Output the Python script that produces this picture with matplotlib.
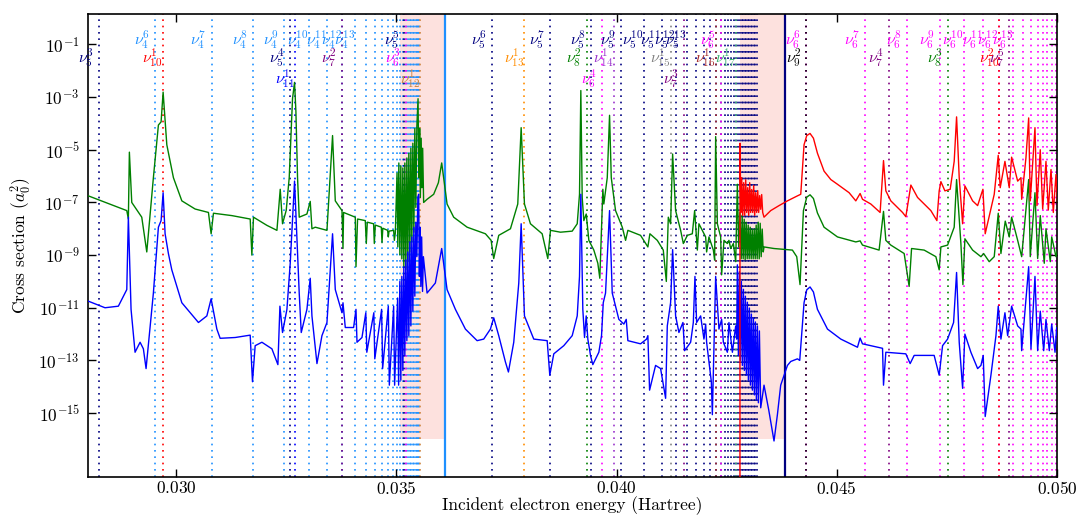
import numpy as np
import matplotlib
matplotlib.use('Agg')
from matplotlib import pyplot as plt
from matplotlib import transforms

plt.rcParams['font.family'] = 'serif'
plt.rcParams['font.serif'] = ['cmr10']
plt.rcParams['mathtext.fontset'] = 'cm'
plt.rcParams['axes.formatter.use_mathtext'] = True

# resonance positions (Hartree): series -> (first n, energies)
resonances = {
    4: (6, [0.029523, 0.030807, 0.031739, 0.032455, 0.033011, 0.033432, 0.033773, 0.034068,
            0.034318, 0.034511, 0.034670, 0.034807, 0.034920, 0.035011, 0.035091, 0.035159,
            0.035216, 0.035261, 0.035307, 0.035341, 0.035375, 0.035409, 0.035443, 0.035466,
            0.035489, 0.035511]),
    5: (3, [0.028257, 0.032575, 0.035182, 0.037175, 0.038484, 0.039409, 0.040091, 0.040614,
            0.041023, 0.041341, 0.041591, 0.041795, 0.041977, 0.042125, 0.042250, 0.042364,
            0.042455, 0.042534, 0.042602, 0.042659, 0.042716, 0.042761, 0.042807, 0.042841,
            0.042875, 0.042909, 0.042943, 0.042977, 0.043011, 0.043045, 0.043080, 0.043114,
            0.043148, 0.043182]),
    6: (3, [0.035227, 0.039659, 0.042364, 0.044307, 0.045648, 0.046602, 0.047341, 0.047886,
            0.048330, 0.048682, 0.049011, 0.049220, 0.049409, 0.049561, 0.049675, 0.049784,
            0.049886, 0.049977]),
    7: (2, [0.033766, 0.041530, 0.046189, 0.048920]),
    8: (2, [0.039334, 0.047516]),
    9: (2, [0.044310]),
    10: (1, [0.029698, 0.048689]),
    11: (1, [0.032705]),
    12: (1, [0.035545]),
    13: (1, [0.037909]),
    14: (1, [0.039932]),
    15: (1, [0.041227]),
    16: (1, [0.042250]),
    17: (1, [0.042705]),
}
series_colors = {4: 'dodgerblue', 5: 'navy', 6: 'magenta', 7: 'purple', 8: 'green', 9: 'black',
                 10: 'red', 11: 'blue', 12: 'peru', 13: 'darkorange', 14: 'darkorchid',
                 15: 'gray', 16: 'brown', 17: 'mediumseagreen'}
row_b = [(5, 3), (10, 1), (5, 4), (7, 2), (6, 3), (13, 1), (8, 2), (14, 1), (15, 1), (16, 1),
         (17, 1), (9, 2), (7, 4), (8, 3), (10, 2), (7, 5)]
row_c = [(11, 1), (12, 1), (6, 4), (7, 3)]

thresholds = [(0.036098, 'dodgerblue'), (0.043825, 'navy')]
windows = [(0.035091, 0.036098), (0.042795, 0.043825)]

# cross sections: (energy in Hartree, log10 sigma in a0^2)
green_pts = [
    (0.028007, -6.75), (0.028880, -7.31), (0.028916, -7.63), (0.028939, -5.09), (0.028993, -7.00),
    (0.029220, -7.56), (0.029334, -8.88), (0.029484, -6.06), (0.029598, -4.06), (0.029659, -3.94),
    (0.029705, -2.81), (0.029739, -3.63), (0.029789, -4.81), (0.029864, -5.43), (0.029939, -6.06),
    (0.030130, -6.94), (0.030432, -7.25),
    (0.030734, -7.38), (0.030795, -8.19), (0.030848, -7.41), (0.031266, -7.50), (0.031682, -7.63),
    (0.031720, -9.00), (0.031757, -7.56), (0.032061, -7.87), (0.032289, -8.06), (0.032364, -6.50),
    (0.032416, -7.81), (0.032500, -7.30), (0.032568, -6.06), (0.032643, -3.06), (0.032689, -2.44),
    (0.032720, -3.55), (0.032757, -6.06), (0.032795, -7.56), (0.032970, -7.44), (0.033045, -6.96),
    (0.033084, -8.00), (0.033159, -7.94), (0.033425, -8.06), (0.033552, -4.46), (0.033614, -6.94),
    (0.033766, -7.31), (0.033789, -8.75), (0.033802, -7.38), (0.034068, -7.56), (0.034084, -9.44),
    (0.034120, -7.63), (0.034295, -7.69), (0.034318, -8.56), (0.034341, -7.75), (0.034484, -7.81),
    (0.034500, -8.56), (0.034523, -7.86), (0.034659, -7.94), (0.034675, -8.53), (0.034693, -7.98),
    (0.034802, -8.06), (0.034818, -8.31), (0.034834, -8.09), (0.034939, -8.06), (0.034955, -8.44),
    (0.034977, -8.16),
    (0.035016, -5.88), (0.035034, -8.69), (0.035057, -5.50), (0.035080, -8.99), (0.035102, -5.61),
    (0.035125, -9.14), (0.035148, -5.69), (0.035170, -9.44), (0.035193, -5.50), (0.035216, -9.55),
    (0.035239, -5.31), (0.035261, -9.25), (0.035284, -5.13), (0.035307, -8.88), (0.035330, -4.94),
    (0.035352, -8.50), (0.035375, -4.75), (0.035398, -8.13), (0.035420, -4.19), (0.035443, -7.19),
    (0.035466, -4.11), (0.035493, -3.06), (0.035511, -6.06), (0.035530, -4.19), (0.035545, -6.81),
    (0.035564, -4.56), (0.035580, -6.44), (0.035598, -4.94), (0.035620, -7.00),
    (0.035698, -6.88), (0.035848, -6.69), (0.035955, -6.25), (0.036030, -5.50), (0.036152, -7.06),
    (0.036302, -7.56), (0.036607, -7.94), (0.037023, -8.19), (0.037152, -8.44), (0.037211, -9.13),
    (0.037325, -8.25), (0.037591, -8.00), (0.037757, -7.06), (0.037834, -4.16), (0.037909, -7.06),
    (0.038045, -7.81), (0.038311, -8.19), (0.038439, -9.13), (0.038500, -8.06), (0.038727, -8.13),
    (0.038993, -8.09), (0.039107, -7.81), (0.039159, -6.69), (0.039189, -2.75), (0.039220, -6.81),
    (0.039257, -7.69), (0.039311, -7.44), (0.039371, -8.44), (0.039484, -8.81), (0.039575, -9.31),
    (0.039620, -9.88), (0.039689, -6.50), (0.039711, -7.06), (0.039789, -6.06), (0.039841, -3.69),
    (0.039880, -6.06), (0.039977, -7.31), (0.040130, -7.94), (0.040205, -8.44), (0.040257, -8.06),
    (0.040545, -8.25), (0.040711, -8.69), (0.040757, -8.19), (0.040925, -8.44), (0.041061, -8.81),
    (0.041130, -10.00), (0.041175, -7.56), (0.041227, -7.81), (0.041273, -5.16), (0.041341, -7.31),
    (0.041455, -8.06), (0.041516, -8.56), (0.041607, -8.25), (0.041720, -8.19), (0.041773, -7.31),
    (0.041834, -8.81), (0.041870, -7.81), (0.042023, -8.31), (0.042045, -8.88), (0.042098, -8.31),
    (0.042198, -8.81), (0.042227, -9.19), (0.042250, -4.50), (0.042289, -7.81), (0.042364, -8.31),
    (0.042386, -9.75), (0.042439, -8.44), (0.042516, -8.56), (0.042552, -8.44), (0.042591, -8.75),
    (0.042652, -8.56), (0.042705, -9.25), (0.042743, -6.31),
    (0.042773, -8.69), (0.042802, -7.38), (0.042830, -9.14), (0.042852, -7.49), (0.042875, -9.14),
    (0.042898, -7.64), (0.042920, -9.18), (0.042943, -7.75), (0.042966, -9.14), (0.042989, -7.86),
    (0.043011, -9.14), (0.043034, -7.94), (0.043057, -9.14), (0.043080, -8.01), (0.043102, -9.14),
    (0.043125, -8.01), (0.043148, -9.14), (0.043170, -7.86), (0.043193, -9.14), (0.043216, -7.75),
    (0.043239, -9.14), (0.043261, -7.79), (0.043284, -9.06), (0.043307, -8.01), (0.043330, -8.88),
    (0.043348, -8.69), (0.043575, -8.75), (0.043993, -8.81), (0.044091, -9.06), (0.044166, -10.12),
    (0.044243, -7.31), (0.044318, -6.80), (0.044393, -6.71), (0.044470, -6.85), (0.044561, -7.40),
    (0.044711, -7.94), (0.045016, -8.31),
    (0.045432, -8.50), (0.045530, -8.46), (0.045584, -8.62), (0.045961, -8.81), (0.046061, -7.34),
    (0.046114, -8.44), (0.046227, -8.62), (0.046530, -8.94), (0.046643, -10.19), (0.046698, -8.75),
    (0.046984, -8.81), (0.047250, -9.06), (0.047325, -9.56), (0.047364, -8.69), (0.047516, -8.62),
    (0.047666, -7.94), (0.047720, -6.13), (0.047818, -8.56), (0.047864, -10.12), (0.047909, -8.38),
    (0.048084, -8.81), (0.048273, -9.06), (0.048334, -8.94), (0.048461, -9.25), (0.048575, -9.06),
    (0.048666, -7.41), (0.048727, -8.94), (0.048825, -7.71), (0.048916, -8.31), (0.048970, -7.56),
    (0.049107, -8.44), (0.049198, -9.06), (0.049357, -6.13), (0.049393, -9.06), (0.049500, -6.63),
    (0.049561, -9.13), (0.049620, -7.50), (0.049711, -9.31), (0.049750, -8.00), (0.049848, -9.25),
    (0.049880, -8.31), (0.049977, -9.06), (0.050023, -8.69),
]

blue_pts = [
    (0.028007, -10.75), (0.028386, -11.00), (0.028689, -10.94), (0.028880, -10.31), (0.028916, -7.56),
    (0.028977, -11.06), (0.029068, -12.69), (0.029182, -12.31), (0.029257, -12.56), (0.029318, -13.31),
    (0.029484, -10.44), (0.029598, -7.94), (0.029659, -7.69), (0.029705, -6.63), (0.029750, -8.19),
    (0.029825, -8.94), (0.029902, -9.56), (0.030130, -10.81), (0.030507, -11.56), (0.030698, -11.31),
    (0.030795, -10.66),
    (0.030925, -11.81), (0.031000, -12.16), (0.031341, -12.13), (0.031682, -12.04), (0.031734, -13.81),
    (0.031795, -12.44), (0.031948, -12.31), (0.032175, -12.56), (0.032311, -13.16), (0.032357, -10.94),
    (0.032416, -11.94), (0.032516, -11.06), (0.032591, -9.31), (0.032666, -6.94), (0.032689, -6.19),
    (0.032743, -8.31), (0.032795, -10.44), (0.032841, -11.94), (0.032970, -11.06), (0.033045, -9.88),
    (0.033084, -11.31), (0.033198, -13.12), (0.033311, -12.06), (0.033425, -11.56), (0.033552, -8.19),
    (0.033614, -10.31), (0.033766, -11.19), (0.033789, -10.81), (0.033841, -11.75), (0.034030, -11.75),
    (0.034084, -11.06), (0.034107, -12.31), (0.034220, -12.13), (0.034307, -11.19), (0.034330, -12.69),
    (0.034489, -11.19), (0.034511, -12.94), (0.034666, -11.06), (0.034689, -13.31), (0.034818, -10.94),
    (0.034841, -13.94), (0.034939, -10.94), (0.034961, -13.94), (0.035030, -10.63), (0.035052, -13.94),
    (0.035080, -10.00), (0.035102, -13.75), (0.035125, -9.81), (0.035148, -13.38), (0.035170, -9.44),
    (0.035193, -12.81), (0.035216, -9.18), (0.035239, -12.25), (0.035261, -8.88), (0.035284, -12.06),
    (0.035307, -8.50), (0.035330, -11.69), (0.035352, -8.31), (0.035375, -11.13), (0.035398, -7.94),
    (0.035420, -10.56), (0.035443, -7.75), (0.035466, -9.06), (0.035489, -6.81), (0.035507, -6.69),
    (0.035523, -9.81), (0.035539, -7.94), (0.035557, -10.19), (0.035575, -8.31), (0.035595, -10.38),
    (0.035614, -9.06),
    (0.035698, -10.44), (0.035886, -10.06), (0.036030, -8.75), (0.036152, -10.31), (0.036341, -11.06),
    (0.036568, -11.81), (0.036834, -12.25), (0.036984, -12.19), (0.037136, -11.81), (0.037211, -11.38),
    (0.037325, -12.06), (0.037477, -13.06), (0.037545, -13.44), (0.037666, -12.31), (0.037780, -10.06),
    (0.037834, -7.81), (0.037909, -11.31), (0.038120, -12.19), (0.038425, -12.25), (0.038484, -13.56),
    (0.038575, -12.75), (0.038802, -12.44), (0.038993, -12.06), (0.039107, -11.31), (0.039159, -9.81),
    (0.039189, -6.69), (0.039234, -11.06), (0.039273, -12.13), (0.039311, -11.31), (0.039348, -12.19),
    (0.039409, -12.81), (0.039461, -13.16), (0.039598, -12.69), (0.039659, -12.06), (0.039698, -10.81),
    (0.039750, -10.44), (0.039841, -7.31), (0.039902, -10.44), (0.040052, -11.44), (0.040166, -11.62),
    (0.040220, -11.44), (0.040257, -12.25), (0.040545, -12.37), (0.040682, -12.19), (0.040711, -12.06),
    (0.040750, -14.13), (0.040886, -13.19), (0.041000, -13.31), (0.041114, -14.44), (0.041152, -11.69),
    (0.041227, -10.81), (0.041273, -8.79), (0.041341, -11.31), (0.041416, -11.94), (0.041507, -11.56),
    (0.041545, -12.63), (0.041682, -12.31), (0.041743, -11.56), (0.041780, -9.81), (0.041818, -11.56),
    (0.041909, -11.31), (0.041984, -12.19), (0.042023, -11.62), (0.042045, -12.31), (0.042098, -13.06),
    (0.042152, -13.81), (0.042175, -15.06), (0.042250, -9.81), (0.042325, -11.81), (0.042386, -11.44),
    (0.042425, -12.31), (0.042516, -12.69), (0.042552, -11.56), (0.042630, -12.69), (0.042705, -11.69),
    (0.042727, -12.19), (0.042743, -9.37),
    (0.042766, -12.81), (0.042789, -9.63), (0.042811, -13.00), (0.042834, -10.00), (0.042857, -13.19),
    (0.042880, -10.30), (0.042902, -13.38), (0.042925, -10.56), (0.042948, -13.56), (0.042970, -10.79),
    (0.042993, -13.75), (0.043016, -11.01), (0.043039, -13.94), (0.043061, -11.24), (0.043084, -14.13),
    (0.043107, -11.39), (0.043130, -14.31), (0.043152, -11.54), (0.043175, -14.50), (0.043198, -11.69),
    (0.043220, -14.61), (0.043243, -11.88), (0.043273, -14.80),
    (0.043348, -13.94), (0.043455, -14.88), (0.043575, -16.06), (0.043652, -15.06), (0.043727, -13.94),
    (0.043880, -13.19), (0.043955, -13.04), (0.044107, -12.94), (0.044159, -13.00), (0.044257, -10.81),
    (0.044318, -10.32), (0.044393, -10.21), (0.044470, -10.40), (0.044561, -11.06), (0.044789, -11.81),
    (0.045091, -12.19), (0.045470, -12.50),
    (0.045530, -12.15), (0.045584, -12.37), (0.046039, -12.54), (0.046061, -13.94), (0.046114, -12.69),
    (0.046568, -12.75), (0.046666, -13.12), (0.046757, -12.81), (0.047211, -12.81), (0.047325, -13.56),
    (0.047402, -12.44), (0.047516, -12.19), (0.047652, -11.56), (0.047720, -9.66), (0.047780, -12.31),
    (0.047857, -14.06), (0.047909, -12.00), (0.048045, -12.69), (0.048198, -13.31), (0.048273, -13.19),
    (0.048325, -12.81), (0.048370, -15.13), (0.048500, -13.56), (0.048614, -12.06), (0.048666, -10.94),
    (0.048727, -12.19), (0.048818, -11.19), (0.048880, -12.06), (0.048970, -10.94), (0.049107, -11.69),
    (0.049182, -11.81), (0.049198, -12.63), (0.049357, -9.44), (0.049409, -12.56), (0.049500, -9.81),
    (0.049561, -12.63), (0.049620, -11.13), (0.049698, -12.63), (0.049750, -11.44), (0.049825, -12.63),
    (0.049880, -11.62), (0.049955, -12.69), (0.049993, -11.75), (0.050023, -12.25),
]

red_pts = [
    (0.042802, -20.0), (0.042802, -4.75), (0.042823, -7.38),
    (0.042841, -6.06), (0.042864, -7.49), (0.042886, -6.25), (0.042909, -7.49), (0.042932, -6.14),
    (0.042955, -7.38), (0.042977, -6.44), (0.043000, -7.49), (0.043023, -6.25), (0.043045, -7.38),
    (0.043068, -6.51), (0.043091, -7.38), (0.043114, -6.36), (0.043136, -7.49), (0.043159, -6.63),
    (0.043182, -7.38), (0.043205, -6.55), (0.043227, -7.38), (0.043250, -6.74), (0.043273, -7.26),
    (0.043295, -6.70), (0.043318, -7.38),
    (0.043348, -7.56), (0.043500, -7.31), (0.043689, -7.12), (0.043880, -6.94), (0.044107, -6.75),
    (0.044182, -6.69), (0.044257, -4.81), (0.044318, -4.46), (0.044393, -4.38), (0.044470, -4.56),
    (0.044561, -5.13), (0.044711, -5.81), (0.044864, -6.13),
    (0.045016, -6.31), (0.045280, -6.63), (0.045432, -6.94), (0.045530, -6.66), (0.045584, -6.88),
    (0.045773, -7.06), (0.045984, -7.38), (0.046061, -5.41), (0.046114, -6.56), (0.046227, -6.94),
    (0.046493, -7.38), (0.046568, -7.54), (0.046682, -6.34), (0.046834, -6.81), (0.047136, -7.31),
    (0.047273, -7.69), (0.047325, -6.56), (0.047364, -6.21), (0.047455, -6.56), (0.047575, -6.50),
    (0.047666, -5.44), (0.047720, -3.75), (0.047780, -6.06), (0.047857, -7.81), (0.047909, -6.37),
    (0.048084, -6.94), (0.048198, -7.12), (0.048318, -6.50), (0.048370, -8.19), (0.048575, -6.69),
    (0.048666, -5.21), (0.048711, -6.44), (0.048818, -5.44), (0.048916, -6.44), (0.048970, -5.28),
    (0.049107, -6.19), (0.049182, -6.06), (0.049198, -6.88), (0.049295, -5.31), (0.049357, -3.79),
    (0.049393, -6.94), (0.049500, -4.16), (0.049545, -7.12), (0.049620, -5.00), (0.049675, -7.25),
    (0.049750, -5.44), (0.049802, -7.29), (0.049864, -5.75), (0.049916, -7.38), (0.049977, -5.94),
    (0.050023, -7.31),
]

fig = plt.figure(figsize=(10.8, 5.16), dpi=100)
ax = fig.add_axes([0.0815, 0.076, 0.8972, 0.897])
ax.set_yscale('log')

# shaded windows below the thresholds
for a, b in windows:
    ax.fill_between([a, b], 1e-16, 10.0, color='#fde1de', lw=0, zorder=0)

row_y = {'A': 0.15, 'B': 0.03, 'C': 0.005}
for s, (n0, energies) in resonances.items():
    col = series_colors[s]
    for k, e in enumerate(energies):
        n = n0 + k
        ax.axvline(e, color=col, lw=1.2, ls=(0, (1, 2.8)), zorder=1)
        if n > 13:
            continue
        if (s, n) in row_b:
            yy = row_y['B']
        elif (s, n) in row_c:
            yy = row_y['C']
        else:
            yy = row_y['A']
        gap = -3.5 if (s < 10 and n < 10) else 0
        tr = transforms.offset_copy(ax.transData, fig=fig, x=gap, y=0, units='points')
        ax.text(e, yy, r'$\nu_{%d}^{%d}$' % (s, n), color=col, fontsize=11.5,
                ha='right', va='center', transform=tr, zorder=4)

for e, col in thresholds:
    ax.axvline(e, color=col, lw=1.6, zorder=2)

for pts, col in [(green_pts, 'green'), (blue_pts, 'blue'), (red_pts, 'red')]:
    en, lg = np.array(pts).T
    ax.plot(en, 10.0 ** lg, color=col, lw=1.0, zorder=3)

ax.set_xlim(0.028, 0.050)
ax.set_ylim(10 ** -17.42, 10 ** 0.16)
ax.set_xticks([0.030, 0.035, 0.040, 0.045, 0.050])
ax.set_yticks([1e-1, 1e-3, 1e-5, 1e-7, 1e-9, 1e-11, 1e-13, 1e-15])
ax.yaxis.set_minor_locator(matplotlib.ticker.NullLocator())
ax.tick_params(which='both', direction='in', top=True, right=True, length=6, width=1,
               labelsize=12.5)
ax.tick_params(axis='x', pad=2)
ax.tick_params(axis='y', pad=6)
for sp in ax.spines.values():
    sp.set_linewidth(1.2)

ax.set_xlabel('Incident electron energy (Hartree)', fontsize=12.5, labelpad=0)
ax.set_ylabel(r'Cross section ($a_0^2$)', fontsize=12.5)

fig.savefig('out.png', dpi=100)
